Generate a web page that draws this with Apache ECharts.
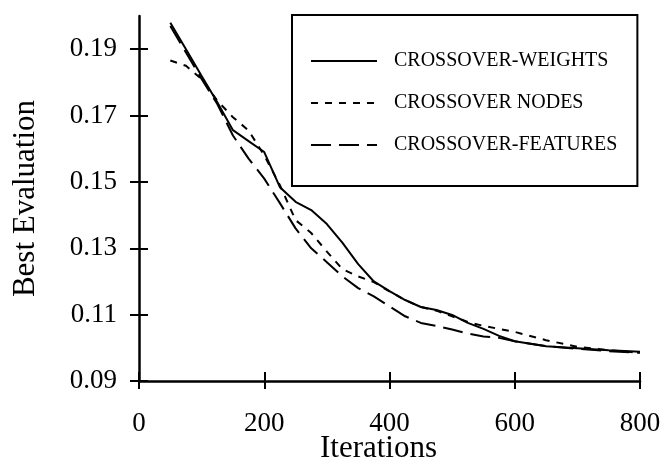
<!DOCTYPE html>
<html><head><meta charset="utf-8">
<script src="https://cdn.jsdelivr.net/npm/echarts@6/dist/echarts.min.js"></script>
<style>html,body{margin:0;padding:0;background:#fff}#c{width:666px;height:468px}</style>
</head><body><div id="c"></div>
<script>
const iterations = [50, 75, 100, 125, 150, 175, 200, 225, 250, 275, 300, 325, 350, 375, 400, 425, 450, 475, 500, 525, 550, 575, 600, 650, 700, 750, 800];
const crossoverWeights = [0.198, 0.190, 0.1819, 0.174, 0.1656, 0.1623, 0.159, 0.1484, 0.1440, 0.1415, 0.1373, 0.1316, 0.1252, 0.120, 0.1171, 0.1144, 0.1123, 0.1114, 0.1099, 0.1075, 0.1057, 0.1036, 0.102, 0.1005, 0.0999, 0.0993, 0.0988];
const crossoverNodes = [0.1866, 0.185, 0.181, 0.1745, 0.1695, 0.1655, 0.158, 0.149, 0.1385, 0.1346, 0.129, 0.1237, 0.1215, 0.1198, 0.117, 0.1144, 0.1123, 0.1112, 0.1095, 0.1078, 0.1066, 0.1057, 0.1048, 0.1023, 0.1003, 0.0993, 0.0985];
const crossoverFeatures = [0.197, 0.189, 0.181, 0.1735, 0.164, 0.157, 0.151, 0.1436, 0.136, 0.130, 0.1258, 0.1215, 0.118, 0.1155, 0.1125, 0.1095, 0.1075, 0.1066, 0.1055, 0.1043, 0.1034, 0.1030, 0.102, 0.1005, 0.0997, 0.099, 0.0985];
const yTickValues = [0.09, 0.11, 0.13, 0.15, 0.17, 0.19];
const xTickValues = [0, 200, 400, 600, 800];
const seriesNames = ['CROSSOVER-WEIGHTS', 'CROSSOVER NODES', 'CROSSOVER-FEATURES'];

const FONT = 'Liberation Serif, Times New Roman, serif';
const zip = (xs, ys) => xs.map((x, i) => [x, ys[i]]);
const chart = echarts.init(document.getElementById('c'), null, {renderer: 'canvas'});
const lineSeries = (name, vals, dash) => ({
  name, type: 'line', data: zip(iterations, vals), xAxisIndex: 0, yAxisIndex: 0,
  symbol: 'none', showSymbol: false, smooth: false,
  lineStyle: {color: '#000', width: 2, type: dash}, itemStyle: {color: '#000'}
});
const gridRect = {left: 139, right: 26, top: 16, bottom: 87, containLabel: false, outerBoundsMode: 'none'};
const tickStyle = {color: '#000', width: 2};
chart.setOption({
  animation: false,
  backgroundColor: '#fff',
  grid: [Object.assign({}, gridRect), Object.assign({}, gridRect)],
  legend: {
    data: seriesNames, orient: 'vertical', left: 292, top: 15,
    itemWidth: 66, itemHeight: 20, itemGap: 22,
    padding: [36, 20, 31, 18],
    borderColor: '#000', borderWidth: 2, backgroundColor: '#fff',
    itemStyle: {color: 'rgba(0,0,0,0)', borderColor: 'rgba(0,0,0,0)', borderWidth: 0, opacity: 0},
    textStyle: {fontFamily: FONT, fontSize: 20, color: '#000', padding: [0, 0, 0, 12]}
  },
  xAxis: [{
    gridIndex: 0, type: 'value', min: 0, max: 800, interval: 200, position: 'bottom',
    axisLine: {show: true, lineStyle: {color: '#000', width: 2.5}},
    axisTick: {show: true, inside: false, length: 8, lineStyle: tickStyle},
    axisLabel: {margin: 29, fontSize: 27, fontFamily: FONT, color: '#000',
      customValues: xTickValues},
    splitLine: {show: false},
    name: 'Iterations', nameLocation: 'middle', nameGap: 52, nameMoveOverlap: false,
    nameTextStyle: {fontSize: 31, fontFamily: FONT, color: '#000', padding: [0, 22, 0, 0]}
  }, {
    gridIndex: 1, type: 'value', min: 0, max: 800, interval: 200, position: 'bottom',
    axisLine: {show: false},
    axisTick: {show: true, inside: true, length: 9, lineStyle: tickStyle},
    axisLabel: {show: false}, splitLine: {show: false}
  }],
  yAxis: [{
    gridIndex: 0, type: 'value', min: 0.09, max: 0.20, interval: 0.01, position: 'left',
    axisLine: {show: true, lineStyle: {color: '#000', width: 2.5}},
    axisTick: {show: true, inside: false, length: 9, lineStyle: tickStyle,
      customValues: yTickValues},
    axisLabel: {margin: 22, fontSize: 27, fontFamily: FONT, color: '#000',
      customValues: yTickValues, formatter: v => v.toFixed(2)},
    splitLine: {show: false},
    name: 'Best Evaluation', nameLocation: 'middle', nameGap: 98, nameMoveOverlap: false,
    nameTextStyle: {fontSize: 31, fontFamily: FONT, color: '#000'}
  }, {
    gridIndex: 1, type: 'value', min: 0.09, max: 0.20, interval: 0.01, position: 'left',
    axisLine: {show: false},
    axisTick: {show: true, inside: true, length: 9, lineStyle: tickStyle,
      customValues: yTickValues},
    axisLabel: {show: false}, splitLine: {show: false}
  }],
  series: [
    lineSeries(seriesNames[0], crossoverWeights, 'solid'),
    lineSeries(seriesNames[1], crossoverNodes, [7, 7]),
    lineSeries(seriesNames[2], crossoverFeatures, [20, 8])
  ]
});
</script>
</body></html>
